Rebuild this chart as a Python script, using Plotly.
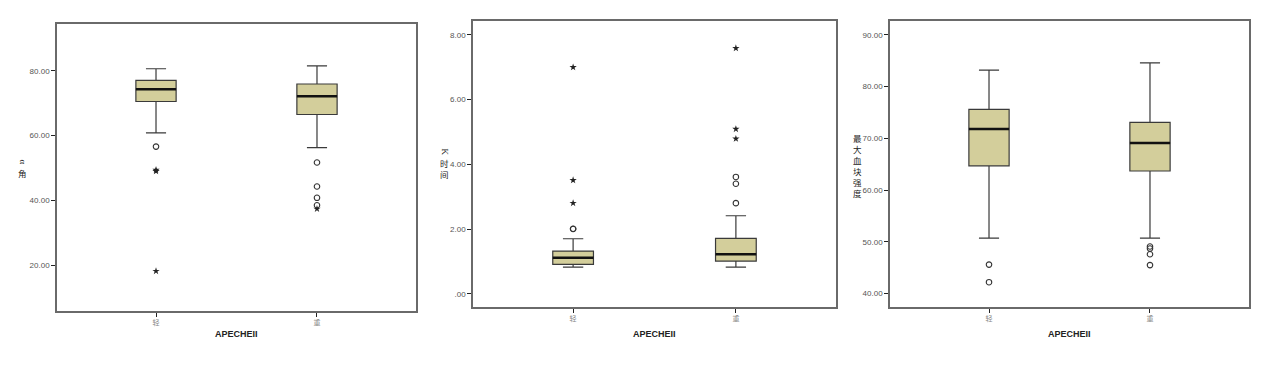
import plotly.graph_objects as go

W, H = 1269, 366

groups = ["轻", "重"]
xcat = [0, 1]

# Panel 1: α角
alpha_q1 = [70.5, 66.5]
alpha_med = [74.3, 72.1]
alpha_q3 = [77.0, 75.9]
alpha_lo = [60.8, 56.3]
alpha_hi = [80.6, 81.5]
alpha_circles = [[56.6], [51.7, 44.3, 40.8, 38.5]]
alpha_stars = [[49.4, 49.0, 18.2], [37.4]]
alpha_ticks = [20, 40, 60, 80]
alpha_ticktext = ["20.00", "40.00", "60.00", "80.00"]

# Panel 2: K时间
k_q1 = [0.91, 1.01]
k_med = [1.11, 1.22]
k_q3 = [1.32, 1.71]
k_lo = [0.82, 0.82]
k_hi = [1.70, 2.41]
k_circles = [[2.01, 2.0], [2.80, 3.40, 3.61]]
k_stars = [[2.80, 3.51, 7.0], [4.79, 5.09, 7.59]]
k_ticks = [0, 2, 4, 6, 8]
k_ticktext = [".00", "2.00", "4.00", "6.00", "8.00"]

# Panel 3: 最大血块强度
ma_q1 = [64.7, 63.7]
ma_med = [71.8, 69.1]
ma_q3 = [75.6, 73.1]
ma_lo = [50.7, 50.7]
ma_hi = [83.2, 84.6]
ma_circles = [[45.6, 42.2], [49.1, 48.7, 47.6, 45.5]]
ma_stars = [[], []]
ma_ticks = [40, 50, 60, 70, 80, 90]
ma_ticktext = ["40.00", "50.00", "60.00", "70.00", "80.00", "90.00"]

panels = [
    dict(q1=alpha_q1, med=alpha_med, q3=alpha_q3, lo=alpha_lo, hi=alpha_hi,
         circ=alpha_circles, star=alpha_stars, tv=alpha_ticks, tt=alpha_ticktext,
         yr=[5.9, 94.4], xd=[57, 416], yd=[24, 311]),
    dict(q1=k_q1, med=k_med, q3=k_q3, lo=k_lo, hi=k_hi,
         circ=k_circles, star=k_stars, tv=k_ticks, tt=k_ticktext,
         yr=[-0.41, 8.43], xd=[473, 836], yd=[21, 307]),
    dict(q1=ma_q1, med=ma_med, q3=ma_q3, lo=ma_lo, hi=ma_hi,
         circ=ma_circles, star=ma_stars, tv=ma_ticks, tt=ma_ticktext,
         yr=[37.4, 92.7], xd=[890, 1249], yd=[21, 307]),
]

BOXW = 0.25
fig = go.Figure()
layout = dict(width=W, height=H, margin=dict(l=0, r=0, t=0, b=0),
              paper_bgcolor="white", plot_bgcolor="white", showlegend=False)

for k, p in enumerate(panels):
    n = "" if k == 0 else str(k + 1)
    xa, ya = "x" + n, "y" + n
    fig.add_trace(go.Box(
        x=xcat, q1=p["q1"], median=p["med"], q3=p["q3"],
        lowerfence=p["lo"], upperfence=p["hi"], boxpoints=False,
        width=BOXW, whiskerwidth=0.5,
        fillcolor="#D3CE9B", line=dict(color="#3a3a3a", width=1.2),
        xaxis=xa, yaxis=ya, hoverinfo="skip"))
    # thick median lines
    mx, my = [], []
    for i, m in zip(xcat, p["med"]):
        mx += [i - BOXW / 2, i + BOXW / 2, None]
        my += [m, m, None]
    fig.add_trace(go.Scatter(x=mx, y=my, mode="lines",
                             line=dict(color="#111", width=2.5),
                             xaxis=xa, yaxis=ya, hoverinfo="skip"))
    cx, cy, sx, sy = [], [], [], []
    for i in xcat:
        cx += [i] * len(p["circ"][i]); cy += p["circ"][i]
        sx += [i] * len(p["star"][i]); sy += p["star"][i]
    fig.add_trace(go.Scatter(x=cx, y=cy, mode="markers",
                             marker=dict(symbol="circle-open", size=5.5,
                                         color="#333", line=dict(width=1.1)),
                             xaxis=xa, yaxis=ya))
    if sx:
        fig.add_trace(go.Scatter(x=sx, y=sy, mode="markers",
                                 marker=dict(symbol="star", size=5.5, color="#222"),
                                 xaxis=xa, yaxis=ya))
    axcommon = dict(showline=True, mirror=True, linecolor="#6a6a6a", linewidth=1.5,
                    showgrid=False, zeroline=False, ticks="outside", ticklen=4,
                    tickcolor="#222")
    layout["xaxis" + n] = dict(axcommon, domain=[p["xd"][0] / W, p["xd"][1] / W],
                               range=[-0.615, 1.615], tickvals=xcat, ticktext=groups,
                               tickfont=dict(family="Noto Sans CJK SC", size=7, color="#888"),
                               anchor=ya)
    layout["yaxis" + n] = dict(axcommon, domain=[1 - p["yd"][1] / H, 1 - p["yd"][0] / H],
                               range=p["yr"], tickvals=p["tv"], ticktext=p["tt"],
                               tickfont=dict(family="Liberation Sans", size=8, color="#555"),
                               anchor=xa)

annotations = []
# x-axis titles
for p in panels:
    annotations.append(dict(x=(p["xd"][0] + p["xd"][1]) / 2 / W, y=1 - 334 / H,
                            xref="paper", yref="paper", text="<b>APECHEII</b>",
                            xanchor="center", yanchor="middle", showarrow=False,
                            font=dict(family="Liberation Sans", size=9, color="#222")))


def vtext(latin, cjk, xpx, ysplit, latin_dx=0):
    out = []
    if latin:
        out.append(dict(x=(xpx + latin_dx) / W, y=1 - ysplit / H, xref="paper", yref="paper",
                        xanchor="center", yanchor="bottom", borderpad=0,
                        text=latin, textangle=90, showarrow=False,
                        font=dict(family="Liberation Serif", size=9, color="#222")))
    out.append(dict(x=xpx / W, y=1 - ysplit / H, xref="paper", yref="paper",
                    xanchor="center", yanchor="top", borderpad=0,
                    text="<br>".join(cjk), showarrow=False,
                    font=dict(family="Noto Sans CJK SC", size=8.5, color="#222")))
    return out


annotations += vtext("α", "角", 23, 166, latin_dx=0)
annotations += vtext("K", "时间", 444, 156, latin_dx=1)
annotations += vtext("", "最大血块强度", 857, 131)

layout["annotations"] = annotations
fig.update_layout(**layout)
fig.write_html("out.html")
